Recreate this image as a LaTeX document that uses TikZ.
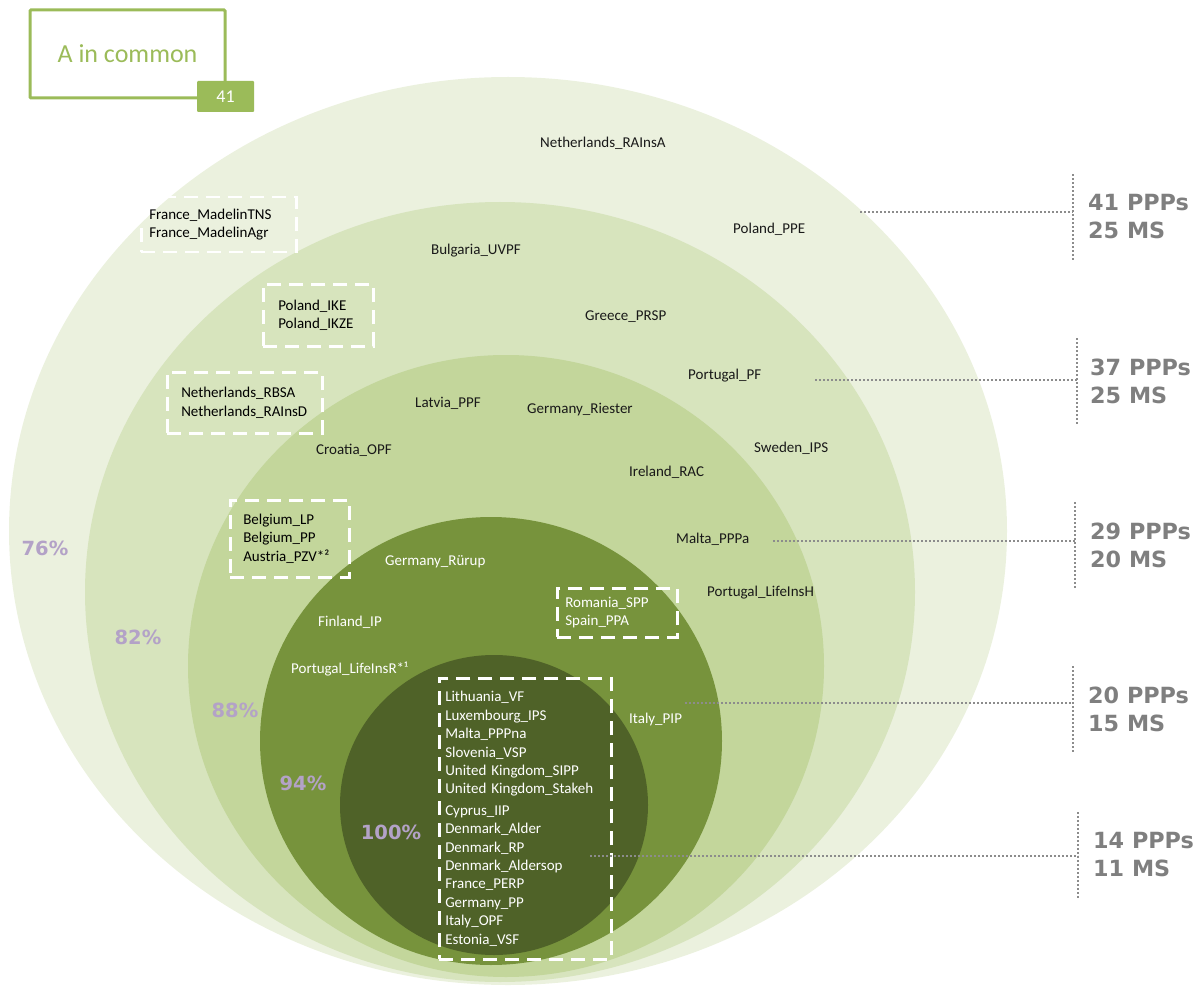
\documentclass[tikz,border=0pt]{standalone}
\usepackage{fontspec}
\setmainfont{Carlito}
\newfontfamily\statfont{DejaVu Sans}

\definecolor{ringA}{HTML}{EBF1DE}
\definecolor{ringB}{HTML}{D7E4BD}
\definecolor{ringC}{HTML}{C3D69B}
\definecolor{ringD}{HTML}{77933C}
\definecolor{ringE}{HTML}{4F6228}
\definecolor{titlegreen}{HTML}{9BBB59}
\definecolor{pctcol}{HTML}{B3A2C7}
\definecolor{statcol}{HTML}{7F7F7F}
\definecolor{dotcol}{HTML}{8C8C8C}

\tikzset{
  lbl/.style={anchor=west, inner sep=0pt, text=black!90, font=\fontsize{15}{18.4}\selectfont},
  lbllight/.style={lbl, text=white},
  grp/.style={draw=white, line width=2.5pt, dash pattern=on 14pt off 8pt,
    anchor=north west, align=left, inner ysep=0pt, font=\fontsize{15}{18.4}\selectfont},
  pct/.style={text=pctcol, inner sep=0pt, font=\statfont\bfseries\fontsize{19.5}{19.5}\selectfont},
  stat/.style={anchor=west, align=left, inner xsep=0pt, inner ysep=0pt, minimum height=85pt,
    text=statcol, font=\statfont\bfseries\fontsize{22.3}{28}\selectfont},
  dotline/.style={draw=dotcol, line width=2.2pt, dash pattern=on 2pt off 2pt}
}

\begin{document}
\begin{tikzpicture}[x=1pt,y=-1pt]
  \useasboundingbox (0,0) rectangle (1197,987);

  % Draw nested ellipses, outer first
  \fill [ringA] (508,531) ellipse [x radius=499pt, y radius=454pt];
  \fill [ringB] (500,592) ellipse [x radius=415pt, y radius=390pt];
  \fill [ringC] (506,666) ellipse [x radius=318pt, y radius=311pt];
  \fill [ringD] (491,741) ellipse [x radius=231pt, y radius=224pt];
  \fill [ringE] (494,805) ellipse [x radius=154pt, y radius=150pt];

  % Title box with count tag
  \node [draw=titlegreen, line width=3pt, rounded corners=1pt, minimum width=195pt,
    minimum height=88pt, text=titlegreen, font=\fontsize{26}{26}\selectfont]
    (title) at (127.5,54) {A in common};
  \node [fill=titlegreen, rounded corners=1pt, minimum width=57pt, minimum height=31pt,
    inner sep=0pt, text=white, font=\fontsize{18}{18}\selectfont]
    (count) at (225.5,96.5) {41};

  % Percentages
  \node [pct] (p76) at (45,548) {76\%};
  \node [pct] (p82) at (138,637) {82\%};
  \node [pct] (p88) at (235,710) {88\%};
  \node [pct] (p94) at (303,783) {94\%};
  \node [pct] (p100) at (391,832) {100\%};

  % Single labels, outer rings
  \node [lbl] (nlrainsa) at (540,143) {Netherlands\_RAInsA};
  \node [lbl] (plppe) at (733,229) {Poland\_PPE};
  \node [lbl] (bguvpf) at (431,251) {Bulgaria\_UVPF};
  \node [lbl] (grprsp) at (585,317) {Greece\_PRSP};
  \node [lbl] (ptpf) at (688,376) {Portugal\_PF};
  \node [lbl] (lvppf) at (415,403) {Latvia\_PPF};
  \node [lbl] (deriester) at (527,410) {Germany\_Riester};
  \node [lbl] (seips) at (754,448) {Sweden\_IPS};
  \node [lbl] (ierac) at (629,472) {Ireland\_RAC};
  \node [lbl] (hropf) at (316,450) {Croatia\_OPF};
  \node [lbl] (mtpppa) at (676,539) {Malta\_PPPa};
  \node [lbl] (ptlifeh) at (707,593) {Portugal\_LifeInsH};

  % Single labels, inner rings
  \node [lbllight] (derurup) at (385,562) {Germany\_Rürup};
  \node [lbllight] (fiip) at (318,622) {Finland\_IP};
  \node [lbllight] (ptlifer) at (291,669) {Portugal\_LifeInsR*¹};
  \node [lbllight] (itpip) at (629,719) {Italy\_PIP};

  % Grouped labels in dashed boxes
  \node [grp, inner xsep=8pt, text width=139pt, minimum height=55pt] (frgrp) at (140,196)
    {France\_MadelinTNS\\France\_MadelinAgr};
  \node [grp, inner xsep=15pt, text width=80pt, minimum height=62pt] (plgrp) at (262,283)
    {Poland\_IKE\\Poland\_IKZE};
  \node [grp, inner xsep=14pt, text width=127pt, minimum height=61pt] (nlgrp) at (166,371)
    {Netherlands\_RBSA\\Netherlands\_RAInsD};
  \node [grp, inner xsep=13pt, text width=93pt, minimum height=77pt] (begrp) at (229,499)
    {Belgium\_LP\\Belgium\_PP\\Austria\_PZV*²};
  \node [grp, text=white, inner xsep=8pt, text width=104pt, minimum height=49pt] (rogrp) at (556,587)
    {Romania\_SPP\\Spain\_PPA};
  \node [grp, text=white, inner xsep=6pt, text width=160pt, minimum height=281pt] (coregrp) at (438,677)
    {Lithuania\_VF\\Luxembourg\_IPS\\Malta\_PPPna\\Slovenia\_VSP\\United Kingdom\_SIPP\\
     United Kingdom\_Stakeh\\[3pt]Cyprus\_IIP\\Denmark\_Alder\\Denmark\_RP\\Denmark\_Aldersop\\
     France\_PERP\\Germany\_PP\\Italy\_OPF\\Estonia\_VSF};

  % Counts on the right with dotted leaders
  \node [stat] (s41) at (1088,217) {41 PPPs\\25 MS};
  \node [stat] (s37) at (1090,381) {37 PPPs\\25 MS};
  \node [stat] (s29) at (1090,545) {29 PPPs\\20 MS};
  \node [stat] (s20) at (1088,709) {20 PPPs\\15 MS};
  \node [stat] (s14) at (1093,855) {14 PPPs\\11 MS};

  \coordinate (h41) at (860,212);
  \coordinate (h37) at (815,380);
  \coordinate (h29) at (773,541);
  \coordinate (h20) at (685,703);
  \coordinate (h14) at (590,856);

  \draw [dotline] ([xshift=-15pt]s41.north west) coordinate (b41) -- ([xshift=-15pt]s41.south west);
  \draw [dotline] ([xshift=-13pt]s37.north west) coordinate (b37) -- ([xshift=-13pt]s37.south west);
  \draw [dotline] ([xshift=-15pt]s29.north west) coordinate (b29) -- ([xshift=-15pt]s29.south west);
  \draw [dotline] ([xshift=-15pt]s20.north west) coordinate (b20) -- ([xshift=-15pt]s20.south west);
  \draw [dotline] ([xshift=-15pt]s14.north west) coordinate (b14) -- ([xshift=-15pt]s14.south west);

  \draw [dotline] (h41) -- (h41 -| b41);
  \draw [dotline] (h37) -- (h37 -| b37);
  \draw [dotline] (h29) -- (h29 -| b29);
  \draw [dotline] (h20) -- (h20 -| b20);
  \draw [dotline] (h14) -- (h14 -| b14);

\end{tikzpicture}
\end{document}
